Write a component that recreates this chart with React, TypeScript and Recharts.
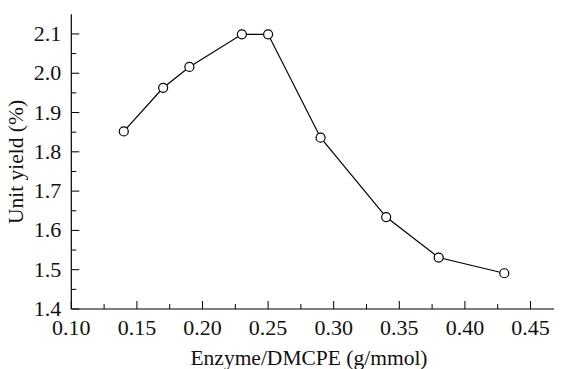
import { Line, LineChart, XAxis, YAxis } from "recharts"

const ratio = [0.14, 0.17, 0.19, 0.23, 0.25, 0.29, 0.34, 0.38, 0.43]
const unitYield = [1.852, 1.963, 2.016, 2.099, 2.099, 1.836, 1.634, 1.531, 1.491]

const xMajor = [0.1, 0.15, 0.2, 0.25, 0.3, 0.35, 0.4, 0.45]
const xMinor = [0.125, 0.175, 0.225, 0.275, 0.325, 0.375, 0.425]
const yMajor = [1.4, 1.5, 1.6, 1.7, 1.8, 1.9, 2.0, 2.1]
const yMinor = [1.45, 1.55, 1.65, 1.75, 1.85, 1.95, 2.05]

const data = ratio.map((r, i) => ({ ratio: r, value: unitYield[i] }))

const FONT = "'Liberation Serif', 'Times New Roman', serif"
const tickStyle = { fontFamily: FONT, fontSize: 22, fill: "#111" }
const titleStyle = { fontFamily: FONT, fontSize: 21.5, fill: "#111" }

const XTick = (props: any) => {
  const { x, y, payload } = props
  const major = xMajor.includes(payload.value)
  return (
    <g>
      <line x1={x} x2={x} y1={y} y2={y - (major ? 8 : 5)} stroke="#000" strokeWidth={1} />
      {major && (
        <text x={x} y={y + 26} textAnchor="middle" style={tickStyle}>
          {payload.value.toFixed(2)}
        </text>
      )}
    </g>
  )
}

const YTick = (props: any) => {
  const { x, y, payload } = props
  const major = yMajor.includes(payload.value)
  return (
    <g>
      <line x1={x} x2={x + (major ? 8 : 5)} y1={y} y2={y} stroke="#000" strokeWidth={1} />
      {major && (
        <text x={x - 10} y={y + 7} textAnchor="end" style={tickStyle}>
          {payload.value.toFixed(1)}
        </text>
      )}
    </g>
  )
}

export default function App() {
  // the frame runs past the right edge of the figure, so the x range stops at ~0.474
  return (
    <div style={{ width: 554, height: 361 }}>
      <style>{".recharts-surface { overflow: visible; }"}</style>
      <LineChart
        width={554}
        height={361}
        data={data}
        margin={{ top: 6.3, right: 0, bottom: 0, left: 0 }}
      >
        <XAxis
          dataKey="ratio"
          type="number"
          domain={[0.1, 0.474]}
          ticks={[...xMajor, ...xMinor].sort((a, b) => a - b)}
          interval={0}
          tick={<XTick />}
          tickLine={false}
          tickSize={0}
          tickMargin={0}
          height={60}
          axisLine={{ stroke: "#000", strokeWidth: 1.2 }}
          label={() => (
            <text x={301} y={357} textAnchor="middle" style={titleStyle}>
              Enzyme/DMCPE (g/mmol)
            </text>
          )}
        />
        <XAxis
          xAxisId="top"
          orientation="top"
          dataKey="ratio"
          type="number"
          domain={[0.1, 0.474]}
          tick={false}
          tickLine={false}
          height={0}
          axisLine={{ stroke: "#000", strokeWidth: 1.2 }}
        />
        <YAxis
          type="number"
          domain={[1.4, 2.15]}
          ticks={[...yMajor, ...yMinor].sort((a, b) => a - b)}
          interval={0}
          tick={<YTick />}
          tickLine={false}
          tickSize={0}
          tickMargin={0}
          width={63.3}
          axisLine={{ stroke: "#000", strokeWidth: 1.2 }}
          label={() => (
            <text x={15} y={154} transform="rotate(-90, 15, 154)" textAnchor="middle" style={titleStyle}>
              Unit yield (%)
            </text>
          )}
        />
        <Line
          type="linear"
          dataKey="value"
          stroke="#000"
          strokeWidth={1.2}
          dot={{ r: 4.5, fill: "#fff", stroke: "#000", strokeWidth: 1.2 }}
          isAnimationActive={false}
        />
      </LineChart>
    </div>
  )
}
